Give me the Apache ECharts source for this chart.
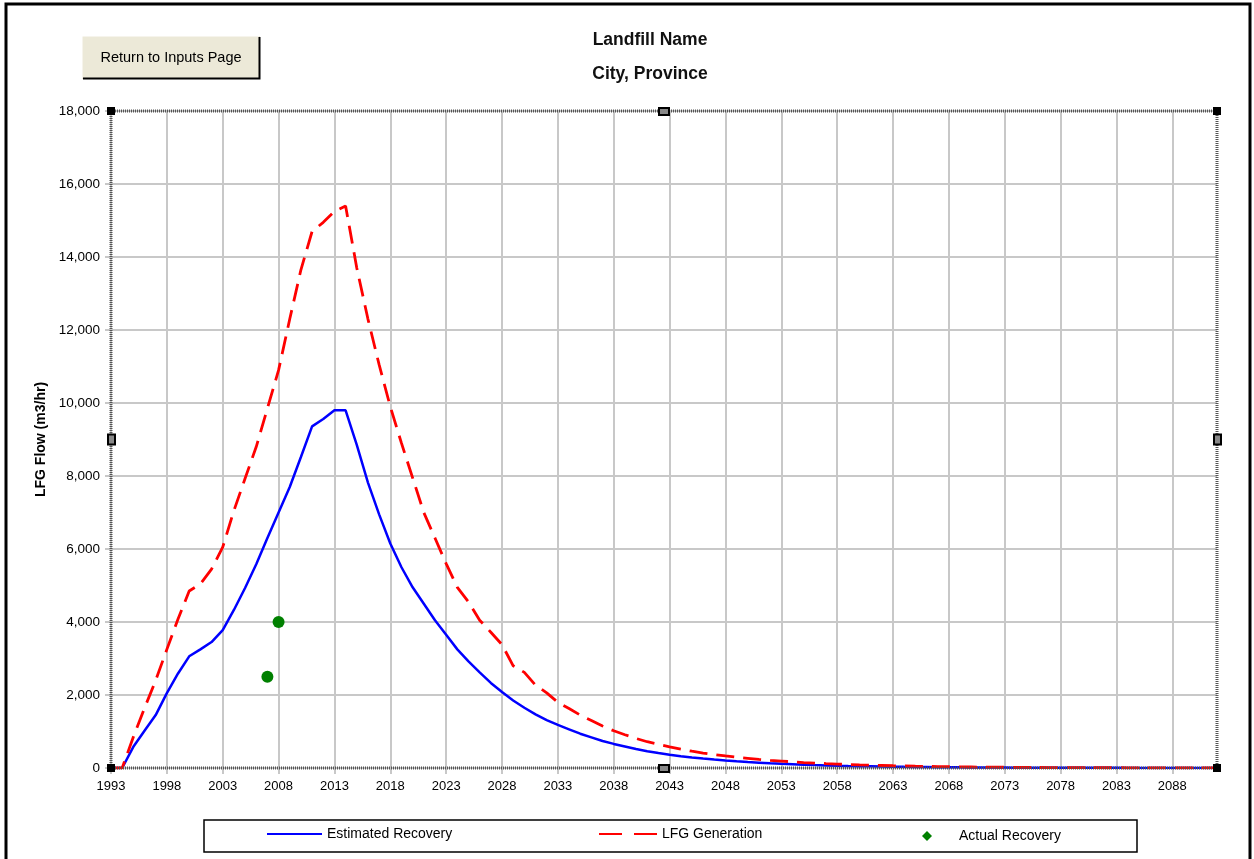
<!DOCTYPE html>
<html>
<head>
<meta charset="utf-8">
<title>LFG Flow</title>
<script src="https://cdn.jsdelivr.net/npm/echarts@6/dist/echarts.min.js"></script>
<style>
  html, body { margin: 0; padding: 0; background: #fff; }
  #chart { width: 1254px; height: 859px; }
</style>
</head>
<body>
<div id="chart"></div>
<script>
// categories: one per year, 1993 - 2092
const years = [];
for (let y = 1993; y <= 2092; y++) years.push(String(y));

// m3/hr
const estimatedRecovery = [
  0, 0, 580, 1020, 1450, 2050, 2590, 3060, 3250, 3450,
  3780, 4330, 4930, 5580, 6300, 7000, 7700, 8520, 9360, 9560,
  9800, 9800, 8850, 7820, 6950, 6150, 5500, 4950, 4500, 4050,
  3650, 3250, 2920, 2620, 2330, 2080, 1850, 1650, 1470, 1310,
  1180, 1060, 940, 840, 740, 660, 590, 520, 460, 410,
  365, 325, 290, 258, 230, 205, 182, 162, 145, 128,
  114, 102, 90, 80, 71, 63, 56, 50, 45, 40,
  35, 31, 28, 25, 22, 20, 18, 16, 14, 12,
  11, 10, 9, 8, 7, 6, 5.5, 5, 4.4, 3.9,
  3.5, 3.1, 2.8, 2.5, 2.2, 2, 1.8, 1.6, 1.4, 1.2
];
const lfgGeneration = [
  0, 0, 850, 1640, 2400, 3250, 4080, 4850, 5040, 5450,
  6050, 7050, 7930, 8800, 9850, 10900, 12300, 13650, 14700, 14950,
  15250, 15400, 13700, 12300, 11050, 9900, 8900, 7950, 7000, 6300,
  5600, 4950, 4550, 4050, 3720, 3380, 2800, 2620, 2270, 2060,
  1800, 1630, 1450, 1300, 1150, 1020, 910, 810, 720, 650,
  580, 520, 460, 410, 370, 330, 295, 265, 235, 210,
  190, 170, 150, 135, 120, 108, 96, 86, 77, 69,
  61, 55, 49, 44, 39, 35, 31, 28, 25, 22,
  20, 18, 16, 14, 13, 11, 10, 9, 8, 7,
  6.5, 5.8, 5.2, 4.6, 4.1, 3.7, 3.3, 2.9, 2.6, 2.3
];
const actualRecovery = [['2007', 2500], ['2008', 4000]];

const yMin = 0, yMax = 18000, yStep = 2000;

// plot area box (px)
const plot = { left: 111, top: 111, right: 1217, bottom: 768 };
const font = '"Liberation Sans", Arial, sans-serif';

const chart = echarts.init(document.getElementById('chart'));

// selection handles round the plot area
function handles() {
  const out = [];
  const midX = (plot.left + plot.right) / 2, midY = (plot.top + plot.bottom) / 2;
  [[plot.left, plot.top], [plot.right, plot.top], [plot.left, plot.bottom], [plot.right, plot.bottom]].forEach(p => {
    out.push({ type: 'rect', z: 100, shape: { x: p[0] - 4, y: p[1] - 4, width: 8, height: 8 },
      style: { fill: '#000' } });
  });
  [[midX, plot.top], [midX, plot.bottom]].forEach(p => {
    out.push({ type: 'rect', z: 100, shape: { x: p[0] - 5, y: p[1] - 3, width: 10, height: 7 },
      style: { fill: '#888', stroke: '#000', lineWidth: 2 } });
  });
  [[plot.left, midY], [plot.right, midY]].forEach(p => {
    out.push({ type: 'rect', z: 100, shape: { x: p[0] - 3, y: p[1] - 5, width: 7, height: 10 },
      style: { fill: '#888', stroke: '#000', lineWidth: 2 } });
  });
  return out;
}

const option = {
  animation: false,
  backgroundColor: '#fff',
  textStyle: { fontFamily: font },
  grid: {
    left: plot.left, top: plot.top, right: 1254 - plot.right, bottom: 859 - plot.bottom,
    show: true, borderColor: '#555', borderWidth: 3, borderType: [1, 1], z: 3
  },
  xAxis: {
    type: 'category',
    data: years,
    boundaryGap: false,
    axisLine: { show: false },
    axisTick: { show: true, interval: 4, length: 6, lineStyle: { color: '#c8c8c8', width: 2 } },
    axisLabel: { interval: 4, margin: 12, color: '#000', fontSize: 13, fontFamily: font },
    splitLine: { show: true, interval: 4, lineStyle: { color: '#c8c8c8', width: 2 } }
  },
  yAxis: {
    type: 'value',
    min: yMin, max: yMax, interval: yStep,
    name: 'LFG Flow (m3/hr)',
    nameLocation: 'middle',
    nameGap: 61,
    nameTextStyle: { color: '#000', fontWeight: 'bold', fontSize: 14, fontFamily: font },
    axisLine: { show: false },
    axisTick: { show: true, length: 6, lineStyle: { color: '#c8c8c8', width: 2 } },
    axisLabel: { margin: 11, color: '#000', fontSize: 13.5, fontFamily: font,
      formatter: v => v.toLocaleString('en-US') },
    splitLine: { lineStyle: { color: '#c8c8c8', width: 2 } }
  },
  legend: [
    { data: ['Estimated Recovery'], left: 266, top: 827, padding: 0, itemWidth: 55, itemHeight: 14,
      itemStyle: { opacity: 0 }, textStyle: { fontSize: 14, color: '#000', fontFamily: font } },
    { data: ['LFG Generation'], left: 598, top: 827, padding: 0, itemWidth: 58, itemHeight: 14,
      itemStyle: { opacity: 0 }, lineStyle: { type: [23, 12] },
      textStyle: { fontSize: 14, color: '#000', fontFamily: font } },
    { data: [{ name: 'Actual Recovery', icon: 'diamond' }], left: 922, top: 829, padding: 0,
      itemWidth: 10, itemHeight: 10,
      textStyle: { fontSize: 14, color: '#000', fontFamily: font, padding: [0, 0, 0, 22] } }
  ],
  series: [
    {
      name: 'Estimated Recovery', type: 'line', data: estimatedRecovery,
      symbol: 'none', smooth: false, z: 2,
      lineStyle: { color: '#0000ff', width: 2.5 }, itemStyle: { color: '#0000ff' }
    },
    {
      name: 'LFG Generation', type: 'line', data: lfgGeneration,
      symbol: 'none', smooth: false, z: 2,
      lineStyle: { color: '#ff0000', width: 2.8, type: [18, 9] }, itemStyle: { color: '#ff0000' }
    },
    {
      name: 'Actual Recovery', type: 'scatter', data: actualRecovery,
      symbol: 'circle', symbolSize: 12, z: 4,
      itemStyle: { color: '#008000', opacity: 1 }
    }
  ],
  graphic: [
    // outer frame
    { type: 'rect', z: 50, shape: { x: 6, y: 4, width: 1244, height: 880 },
      style: { fill: null, stroke: '#000', lineWidth: 3 } },
    // button
    { type: 'rect', z: 10, shape: { x: 82, y: 36, width: 178, height: 43 },
      style: { fill: '#ece9d8', stroke: null } },
    { type: 'polyline', z: 11, shape: { points: [[82, 78], [82, 36], [259, 36]] },
      style: { stroke: '#fff', lineWidth: 1 } },
    { type: 'polyline', z: 11, shape: { points: [[83, 78.5], [259.5, 78.5], [259.5, 37]] },
      style: { stroke: '#000', lineWidth: 2 } },
    { type: 'text', z: 12, style: { x: 171, y: 58, text: 'Return to Inputs Page', fill: '#000',
      font: '14.5px ' + font, textAlign: 'center', textVerticalAlign: 'middle' } },
    // titles
    { type: 'text', z: 12, style: { x: 650, y: 40, text: 'Landfill Name', fill: '#111',
      font: 'bold 17.5px ' + font, textAlign: 'center', textVerticalAlign: 'middle' } },
    { type: 'text', z: 12, style: { x: 650, y: 74, text: 'City, Province', fill: '#111',
      font: 'bold 17.5px ' + font, textAlign: 'center', textVerticalAlign: 'middle' } },
    // legend box
    { type: 'rect', z: 1, shape: { x: 204, y: 820, width: 933, height: 32 },
      style: { fill: '#fff', stroke: '#000', lineWidth: 1.5 } }
  ].concat(handles())
};

chart.setOption(option);
</script>
</body>
</html>
